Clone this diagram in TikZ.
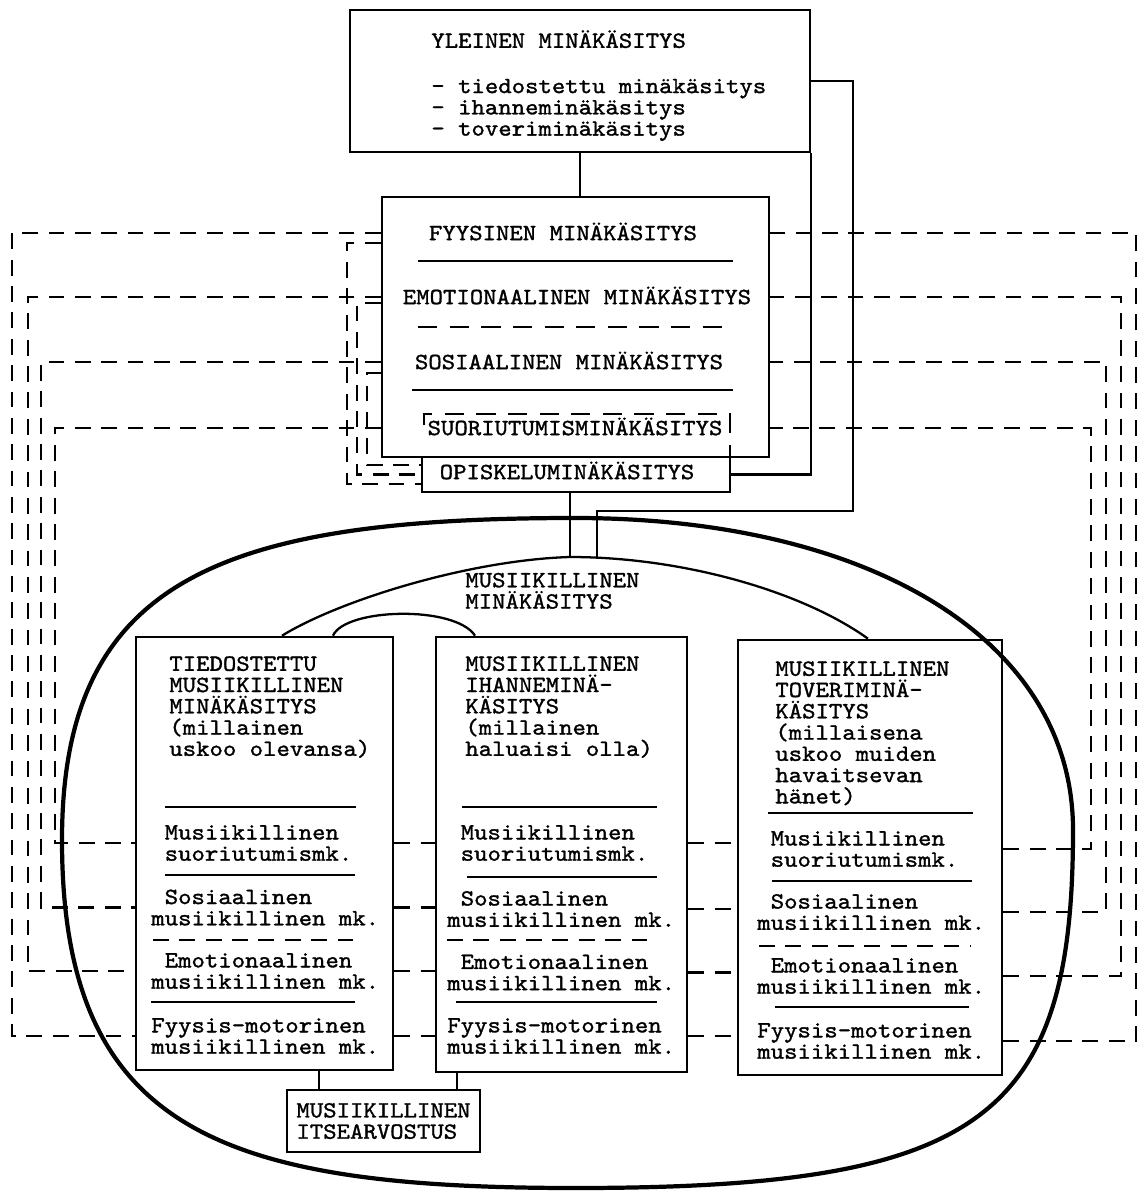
\documentclass[tikz,border=0pt]{standalone}
\usepackage{fontspec}
\newfontfamily\typefont{lmmono10-regular.otf}[FakeBold=1.3, FakeStretch=1.1]
\newcommand{\kfont}{\typefont\fontsize{13.2pt}{12.1pt}\selectfont\lineskiplimit=-100pt}
\newcommand{\onechar}{\hphantom{x}}
\tikzset{
  box/.style={draw, line width=1.5pt, inner sep=0pt},
  lbl/.style={font=\kfont, inner sep=0pt, align=left},
  word/.style={font=\kfont, inner sep=0pt, text height=8.1pt, text depth=0pt},
  link/.style={line width=1.2pt, dash pattern=on 9pt off 6pt},
  tie/.style={line width=1.3pt},
  rule/.style={line width=1.2pt},
}

\begin{document}
\begin{tikzpicture}
  \useasboundingbox (0,0) rectangle (22.78,-23.82);

  % --- general self-concept ---
  \node[box, minimum width=9.2cm, minimum height=2.84cm] (yleinen) at (11.6,-1.62) {};
  \node[lbl, anchor=north west] (yleitxt) at (8.62,-0.6)
    {YLEINEN MINÄKÄSITYS\\[0.48cm]- tiedostettu minäkäsitys\\- ihanneminäkäsitys\\- toveriminäkäsitys};

  % --- domains ---
  \node[box, minimum width=7.74cm, minimum height=5.2cm] (mina) at (11.51,-6.54) {};
  \node[word] (fyys) at (11.26,-4.66) {FYYSINEN MINÄKÄSITYS};
  \node[word] (emot) at (11.54,-5.94) {EMOTIONAALINEN MINÄKÄSITYS};
  \node[word] (sosi) at (11.38,-7.24) {SOSIAALINEN MINÄKÄSITYS};
  \node[word] (suor) at (11.5,-8.56) {SUORIUTUMISMINÄKÄSITYS};
  \draw[rule] (8.36,-5.22) -- (14.66,-5.22);
  \draw[rule, dash pattern=on 11pt off 7pt] (8.36,-6.54) -- (14.66,-6.54);
  \draw[rule] (8.24,-7.8) -- (14.66,-7.8);
  \draw[rule, dash pattern=on 11pt off 7pt] (8.48,-8.5) -- (8.48,-8.28) -- (14.6,-8.28) -- (14.6,-9.14);
  \node[box, minimum width=6.16cm, minimum height=0.7cm] (opis) at (11.52,-9.49) {};
  \node[word] (opistxt) at (11.34,-9.44) {OPISKELUMINÄKÄSITYS};

  % --- musical self-concept ---
  \draw[line width=2.4pt] (11.5,-10.36) .. controls (17.4,-10.36) and (21.46,-12.8) .. (21.46,-16.6)
    .. controls (21.46,-22.4) and (19.6,-23.76) .. (11.5,-23.76)
    .. controls (4.4,-23.76) and (1.24,-22.6) .. (1.24,-16.8)
    .. controls (1.24,-11.6) and (4.4,-10.36) .. cycle;
  \node[lbl, anchor=north west] (musmk) at (9.3,-11.45) {MUSIIKILLINEN\\MINÄKÄSITYS};

  \node[box, minimum width=5.14cm, minimum height=8.66cm] (tied) at (5.29,-17.07) {};
  \node[box, minimum width=5.02cm, minimum height=8.7cm] (ihan) at (11.23,-17.09) {};
  \node[box, minimum width=5.28cm, minimum height=8.7cm] (tover) at (17.4,-17.15) {};

  \node[lbl, anchor=north west] (tiedhead) at (3.38,-13.12)
    {TIEDOSTETTU\\MUSIIKILLINEN\\MINÄKÄSITYS\\(millainen\\uskoo olevansa)};
  \node[lbl, anchor=north west] (ihanhead) at (9.3,-13.12)
    {MUSIIKILLINEN\\IHANNEMINÄ-\\KÄSITYS\\(millainen\\haluaisi olla)};
  \node[lbl, anchor=north west] (toverhead) at (15.5,-13.22)
    {MUSIIKILLINEN\\TOVERIMINÄ-\\KÄSITYS\\(millaisena\\uskoo muiden\\havaitsevan\\hänet)};

  % rules inside the three columns
  \draw[rule] (3.3,-16.14) -- (7.12,-16.14);
  \draw[rule] (3.3,-17.5) -- (7.1,-17.5);
  \draw[rule, dash pattern=on 9pt off 6pt] (3.06,-18.8) -- (7.06,-18.8);
  \draw[rule] (3.02,-20.04) -- (7.1,-20.04);
  \draw[rule] (9.24,-16.14) -- (13.14,-16.14);
  \draw[rule] (9.34,-17.54) -- (13.14,-17.54);
  \draw[rule, dash pattern=on 9pt off 6pt] (8.94,-18.8) -- (13.1,-18.8);
  \draw[rule] (9.12,-20.04) -- (13.14,-20.04);
  \draw[rule] (15.36,-16.26) -- (19.46,-16.26);
  \draw[rule] (15.44,-17.62) -- (19.44,-17.62);
  \draw[rule, dash pattern=on 9pt off 6pt] (15.18,-18.92) -- (19.42,-18.92);
  \draw[rule] (15.5,-20.14) -- (19.38,-20.14);

  % sub-domains
  \node[lbl, anchor=west] (tiedsuor) at (3.02,-16.86) {\onechar Musiikillinen\\\onechar suoriutumismk.};
  \node[lbl, anchor=west] (tiedsosi) at (3.02,-18.15) {\onechar Sosiaalinen\\musiikillinen mk.};
  \node[lbl, anchor=west] (tiedemot) at (3.02,-19.42) {\onechar Emotionaalinen\\musiikillinen mk.};
  \node[lbl, anchor=west] (tiedfyys) at (3.02,-20.72) {Fyysis-motorinen\\musiikillinen mk.};
  \node[lbl, anchor=west] (ihansuor) at (8.94,-16.86) {\onechar Musiikillinen\\\onechar suoriutumismk.};
  \node[lbl, anchor=west] (ihansosi) at (8.94,-18.18) {\onechar Sosiaalinen\\musiikillinen mk.};
  \node[lbl, anchor=west] (ihanemot) at (8.94,-19.45) {\onechar Emotionaalinen\\musiikillinen mk.};
  \node[lbl, anchor=west] (ihanfyys) at (8.94,-20.72) {Fyysis-motorinen\\musiikillinen mk.};
  \node[lbl, anchor=west] (toversuor) at (15.14,-16.98) {\onechar Musiikillinen\\\onechar suoriutumismk.};
  \node[lbl, anchor=west] (toversosi) at (15.14,-18.24) {\onechar Sosiaalinen\\musiikillinen mk.};
  \node[lbl, anchor=west] (toveremot) at (15.14,-19.52) {\onechar Emotionaalinen\\musiikillinen mk.};
  \node[lbl, anchor=west] (toverfyys) at (15.14,-20.82) {Fyysis-motorinen\\musiikillinen mk.};

  \node[box, lbl, minimum width=3.86cm, minimum height=1.24cm] (itse) at (7.67,-22.42)
    {MUSIIKILLINEN\\ITSEARVOSTUS};

  % --- solid connections ---
  \coordinate (rbend) at (17.06,-10.22);
  \coordinate (musstem) at (11.94,-11.15);
  \coordinate (stem) at (11.4,0);
  \draw[tie] (yleinen.south) -- (yleinen.south |- mina.north);
  \draw[tie] (yleinen.east) -| (rbend) -| (musstem);
  \draw[tie] (yleinen.south east) |- (opis.east);
  \draw[tie] (stem |- opis.south) -- (stem |- musstem);
  \coordinate (arcL) at (5.64,0);
  \coordinate (arcR) at (17.36,0);
  \draw[tie] (arcL |- tied.north) .. controls (6.8,-12.0) and (9.4,-11.2) .. (11.4,-11.14)
    .. controls (13.6,-11.14) and (16.0,-11.8) .. (arcR |- tover.north);
  \coordinate (smallL) at (6.66,0);
  \coordinate (smallR) at (9.5,0);
  \draw[tie] (smallL |- tied.north) .. controls (6.9,-12.16) and (9.1,-12.1) .. (smallR |- ihan.north);
  \coordinate (t1) at (6.38,0);
  \coordinate (t2) at (9.14,0);
  \draw[tie] (t1 |- tied.south) -- (t1 |- itse.north);
  \draw[tie] (t2 |- ihan.south) -- (t2 |- itse.north);

  % --- dashed links between the domains ---
  \coordinate (xl1) at (0.24,0);
  \coordinate (xl2) at (0.56,0);
  \coordinate (xl3) at (0.82,0);
  \coordinate (xl4) at (1.1,0);
  \coordinate (xr1) at (22.72,0);
  \coordinate (xr2) at (22.42,0);
  \coordinate (xr3) at (22.12,0);
  \coordinate (xr4) at (21.82,0);
  % physical
  \draw[link] (fyys -| mina.west) -- (fyys -| xl1) -- (tiedfyys -| xl1) -- (tiedfyys -| tied.west);
  \draw[link] (tiedfyys -| tied.east) -- (tiedfyys -| ihan.west);
  \draw[link] (ihanfyys -| ihan.east) -- (ihanfyys -| tover.west);
  \draw[link] (toverfyys -| tover.east) -- (toverfyys -| xr1) -- (fyys -| xr1) -- (fyys -| mina.east);
  % emotional
  \draw[link] (emot -| mina.west) -- (emot -| xl2) -- (tiedemot -| xl2) -- (tiedemot -| tied.west);
  \draw[link] (tiedemot -| tied.east) -- (tiedemot -| ihan.west);
  \draw[link] (ihanemot -| ihan.east) -- (ihanemot -| tover.west);
  \draw[link] (toveremot -| tover.east) -- (toveremot -| xr2) -- (emot -| xr2) -- (emot -| mina.east);
  % social
  \draw[link] (sosi -| mina.west) -- (sosi -| xl3) -- (tiedsosi -| xl3) -- (tiedsosi -| tied.west);
  \draw[link] (tiedsosi -| tied.east) -- (tiedsosi -| ihan.west);
  \draw[link] (ihansosi -| ihan.east) -- (ihansosi -| tover.west);
  \draw[link] (toversosi -| tover.east) -- (toversosi -| xr3) -- (sosi -| xr3) -- (sosi -| mina.east);
  % performance
  \draw[link] (suor -| mina.west) -- (suor -| xl4) -- (tiedsuor -| xl4) -- (tiedsuor -| tied.west);
  \draw[link] (tiedsuor -| tied.east) -- (tiedsuor -| ihan.west);
  \draw[link] (ihansuor -| ihan.east) -- (ihansuor -| tover.west);
  \draw[link] (toversuor -| tover.east) -- (toversuor -| xr4) -- (suor -| xr4) -- (suor -| mina.east);

  % domains to study self-concept
  \coordinate (xi1) at (6.94,0);
  \coordinate (xi2) at (7.14,0);
  \coordinate (xi3) at (7.34,0);
  \coordinate (fyysin) at ([yshift=-0.2cm]fyys.west);
  \coordinate (emotin) at ([yshift=-0.12cm]emot.west);
  \coordinate (sosiin) at ([yshift=-0.22cm]sosi.west);
  \draw[link] (fyysin -| mina.west) -- (fyysin -| xi1) |- ([yshift=-0.19cm]opis.west);
  \draw[link] (emotin -| mina.west) -- (emotin -| xi2) |- (opis.west);
  \draw[link] (sosiin -| mina.west) -- (sosiin -| xi3) |- ([yshift=0.19cm]opis.west);
\end{tikzpicture}
\end{document}
